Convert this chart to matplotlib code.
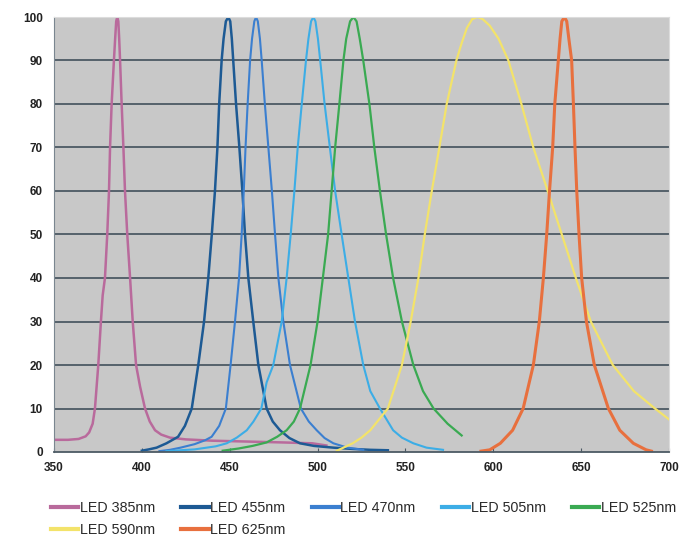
import matplotlib
matplotlib.use("Agg")
import matplotlib.pyplot as plt

# ---- data ----
labels = ["LED 385nm", "LED 455nm", "LED 470nm", "LED 505nm",
          "LED 525nm", "LED 590nm", "LED 625nm"]
colors = ["#b96a9c", "#1d5a94", "#3b7fd0", "#3cade6", "#3aaa52", "#f3e36a", "#e8703e"]

wl_385 = [350, 358, 364, 368, 370, 372, 373.3, 375.2, 376.7, 377.7, 379, 380.3, 381.3, 381.9,
          382.8, 384.1, 384.8, 385.4, 386, 386.6, 387.1, 387.6, 388.5, 389.5, 390.4, 391.7,
          393.3, 394.8, 396.7, 399, 401.8, 404.5, 407.5, 411, 416, 425, 440, 460, 480, 497, 505]
val_385 = [2.8, 2.8, 3.0, 3.6, 4.5, 6.5, 10, 20, 30, 36, 40, 50, 60, 70,
           80, 90, 95, 99, 100, 99, 95, 90, 80, 70, 60, 50,
           40, 30, 20, 15, 10, 7, 5, 4, 3.3, 2.9, 2.6, 2.4, 2.2, 2.0, 1.5]

wl_455 = [400, 404, 408.4, 414, 420.6, 424.5, 428.4, 432.1, 435.4, 437.8, 439.8, 441.6, 443,
          444, 445.4, 446.5, 447.8, 449.2, 450.3, 451.2, 452, 453.6, 455.5, 457.2, 458.7,
          460.6, 463.4, 466.3, 471, 474.5, 478.6, 484, 490, 498, 509, 520, 530, 540]
val_455 = [0.3, 0.6, 1, 2, 3.5, 6, 10, 20, 30, 40, 50, 60, 70,
           80, 90, 95, 99, 100, 99, 95, 90, 80, 70, 60, 50,
           40, 30, 20, 10, 7, 5, 3.2, 2, 1.4, 1, 0.7, 0.5, 0.4]

wl_470 = [410, 416, 422, 430, 436, 439.7, 444, 447.8, 450.5, 453, 455.3, 456.8, 458, 459,
          460.2, 461.6, 462.7, 464, 465, 466, 467.2, 468.2, 470, 472, 474, 475.8, 477.7,
          480.5, 484.3, 490.5, 495, 499.5, 504, 509, 517, 526]
val_470 = [0.2, 0.5, 1, 1.8, 2.7, 3.5, 6, 10, 20, 30, 40, 50, 60, 70,
           80, 90, 95, 99, 100, 99, 95, 90, 80, 70, 60, 50, 40,
           30, 20, 10, 7, 5, 3.2, 2, 1, 0.5]

wl_505 = [414, 430, 442, 448.3, 454, 459.7, 463.5, 468, 471, 474.8, 479.6, 482.4, 484.7,
          486.8, 488.7, 491, 493.4, 494.8, 496.3, 497.6, 498.8, 500.2, 501.5, 504, 507, 510,
          513.7, 517.5, 521.3, 526, 530, 535.5, 543, 548, 554.5, 562, 571.4]
val_505 = [0.2, 0.6, 1.3, 2, 3.3, 5, 7, 10, 16, 20, 30, 40, 50,
           60, 70, 80, 90, 95, 99, 100, 99, 95, 90, 80, 70, 60,
           50, 40, 30, 20, 14, 10, 5, 3.3, 2, 1, 0.5]

wl_525 = [446, 455, 463, 471, 477, 482.4, 486.5, 490, 496, 500, 503, 506, 508, 510, 512.4,
          514.7, 516.3, 518.5, 520.4, 522.2, 524, 526, 529.5, 532.3, 535.5, 539, 543, 548,
          554.5, 560, 566, 574, 582]
val_525 = [0.3, 0.8, 1.4, 2.2, 3.5, 5, 7, 10, 20, 30, 40, 50, 60, 70, 80,
           90, 95, 99, 100, 99, 95, 90, 80, 70, 60, 50, 40, 30,
           20, 14, 10, 6.5, 3.8]

wl_590 = [511, 520, 525, 530, 534, 540, 548, 553, 557.4, 561, 565, 569.3, 573.5, 579,
          582, 585, 588, 591, 594, 598, 603, 608.6, 616, 622.8, 631, 639, 647, 655.5, 668,
          680, 692, 700]
val_590 = [0.3, 2, 3.3, 5, 7, 10, 20, 30, 40, 50, 60, 70, 80, 90,
           94, 97.5, 99.5, 100, 99.5, 98, 95, 90, 80, 70, 60, 50, 40, 30, 20,
           14, 10, 7.5]

wl_625 = [593, 598, 604, 611, 617, 622.8, 626.2, 628.5, 630.4, 632, 633.8, 635, 637, 638,
          639, 640.5, 641.8, 643, 644.6, 645.6, 646.5, 647.5, 648.8, 650.3, 653, 657.5,
          665.5, 672, 679.7, 687, 690]
val_625 = [0.2, 0.5, 2, 5, 10, 20, 30, 40, 50, 60, 70, 80, 90, 95,
           99, 100, 99, 95, 90, 80, 70, 60, 50, 40, 30, 20,
           10, 5, 2, 0.5, 0.2]

series_x = [wl_385, wl_455, wl_470, wl_505, wl_525, wl_590, wl_625]
series_y = [val_385, val_455, val_470, val_505, val_525, val_590, val_625]
widths = [1.8, 1.8, 1.5, 1.5, 1.6, 1.6, 2.2]

x_ticks = [350, 400, 450, 500, 550, 600, 650, 700]
y_ticks = [0, 10, 20, 30, 40, 50, 60, 70, 80, 90, 100]

# ---- figure ----
plt.rcParams['font.family'] = ['Liberation Sans', 'DejaVu Sans']
fig = plt.figure(figsize=(6.81, 5.40), dpi=100)
ax = fig.add_axes([54 / 681, 1 - 452 / 540, 615 / 681, 435 / 540])
ax.set_facecolor("#c8c8c8")

lines = []
for xs, ys, c, lab, lw in zip(series_x, series_y, colors, labels, widths):
    ln, = ax.plot(xs, ys, color=c, lw=lw, label=lab, solid_joinstyle='round')
    lines.append(ln)

ax.set_xlim(350, 700)
ax.set_ylim(0, 100)
ax.set_xticks(x_ticks)
ax.set_yticks(y_ticks)
ax.yaxis.grid(True, color="#4c5a64", lw=1.3)
ax.set_axisbelow(True)
gl = ax.yaxis.get_gridlines()
gl[-1].set_visible(False)
gl[0].set_visible(False)

for s in ["top", "right"]:
    ax.spines[s].set_color("#dcdcdc")
    ax.spines[s].set_linewidth(0.8)
ax.spines["left"].set_color("#7a8690")
ax.spines["left"].set_linewidth(0.8)
ax.spines["bottom"].set_color("#4c5a64")
ax.spines["bottom"].set_linewidth(1.3)

ax.tick_params(axis="y", length=0, pad=8, labelsize=8.5, labelcolor="#222222")
ax.tick_params(axis="x", direction="in", length=3, color="#4c5a64", pad=7,
               labelsize=8.5, labelcolor="#222222")
for t in ax.get_xticklabels() + ax.get_yticklabels():
    t.set_fontweight("bold")

# legend laid out row by row (matplotlib fills columns first)
order = [0, 5, 1, 6, 2, 3, 4]
leg = fig.legend([lines[i] for i in order], [labels[i] for i in order], ncol=5,
                 loc="upper left", bbox_to_anchor=(51 / 681, 1 - 501 / 540), frameon=False,
                 fontsize=10.3, handlelength=1.9, handletextpad=0.1,
                 columnspacing=1.85, labelspacing=0.55, borderpad=0, borderaxespad=0)
for t in leg.get_texts():
    t.set_color("#2a2a2a")
for h in leg.legend_handles:
    h.set_linewidth(3)

fig.savefig("out.png", dpi=100)
